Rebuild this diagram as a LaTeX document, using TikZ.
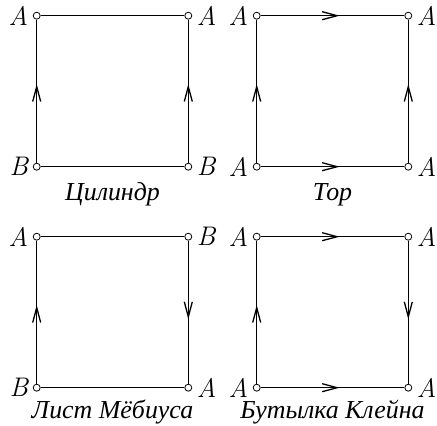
\documentclass[tikz,border=0pt]{standalone}
\usepackage{fontspec}
\newfontfamily\rusfont{Liberation Serif}
\usetikzlibrary{arrows.meta,decorations.markings}

\tikzset{
  vert/.style={circle,draw,fill=white,inner sep=0pt,minimum size=7bp,line width=0.8bp},
  side/.style={line width=1.4bp},
  midarr/.style={side,postaction={decorate,decoration={markings,
      mark=at position 0.55 with {\arrow{Straight Barb[length=15bp,width=8bp,line width=1.3bp]}}}}},
  surftitle/.style={anchor=base,inner sep=1bp,font=\fontsize{26}{31}\selectfont\rusfont\itshape},
  every label/.style={font=\fontsize{27}{32}\selectfont\itshape,inner sep=1bp}
}

\begin{document}
\begin{tikzpicture}[x=1bp,y=1bp,label distance=3.5bp]
\useasboundingbox (0,0) rectangle (437,425);

% cylinder
\begin{scope}[shift={(36.7,258.3)}]
\node[vert,label=left:A]  (cyl-tl) at (0,151) {};
\node[vert,label=right:A] (cyl-tr) at (151.6,151) {};
\node[vert,label=left:B]  (cyl-bl) at (0,0) {};
\node[vert,label=right:B] (cyl-br) at (151.6,0) {};
\draw[side] (cyl-tl) -- (cyl-tr);
\draw[side] (cyl-bl) -- (cyl-br);
\draw[midarr] (cyl-bl) -- (cyl-tl);
\draw[midarr] (cyl-br) -- (cyl-tr);
\node[surftitle] (cyl) at (75.8,-34) {Цилиндр};
\end{scope}

% torus
\begin{scope}[shift={(256.7,258.3)}]
\node[vert,label=left:A]  (tor-tl) at (0,151) {};
\node[vert,label=right:A] (tor-tr) at (151.6,151) {};
\node[vert,label=left:A]  (tor-bl) at (0,0) {};
\node[vert,label=right:A] (tor-br) at (151.6,0) {};
\draw[midarr] (tor-tl) -- (tor-tr);
\draw[midarr] (tor-bl) -- (tor-br);
\draw[midarr] (tor-bl) -- (tor-tl);
\draw[midarr] (tor-br) -- (tor-tr);
\node[surftitle] (tor) at (75.8,-34) {Тор};
\end{scope}

% moebius strip
\begin{scope}[shift={(36.7,37.3)}]
\node[vert,label=left:A]  (mob-tl) at (0,151) {};
\node[vert,label=right:B] (mob-tr) at (151.6,151) {};
\node[vert,label=left:B]  (mob-bl) at (0,0) {};
\node[vert,label=right:A] (mob-br) at (151.6,0) {};
\draw[side] (mob-tl) -- (mob-tr);
\draw[side] (mob-bl) -- (mob-br);
\draw[midarr] (mob-bl) -- (mob-tl);
\draw[midarr] (mob-tr) -- (mob-br);
\node[surftitle] (mob) at (75.8,-31) {Лист Мёбиуса};
\end{scope}

% klein bottle
\begin{scope}[shift={(256.7,37.3)}]
\node[vert,label=left:A]  (kln-tl) at (0,151) {};
\node[vert,label=right:A] (kln-tr) at (151.6,151) {};
\node[vert,label=left:A]  (kln-bl) at (0,0) {};
\node[vert,label=right:A] (kln-br) at (151.6,0) {};
\draw[midarr] (kln-tl) -- (kln-tr);
\draw[midarr] (kln-bl) -- (kln-br);
\draw[midarr] (kln-bl) -- (kln-tl);
\draw[midarr] (kln-tr) -- (kln-br);
\node[surftitle] (kln) at (75.8,-31) {Бутылка Клейна};
\end{scope}
\end{tikzpicture}
\end{document}
